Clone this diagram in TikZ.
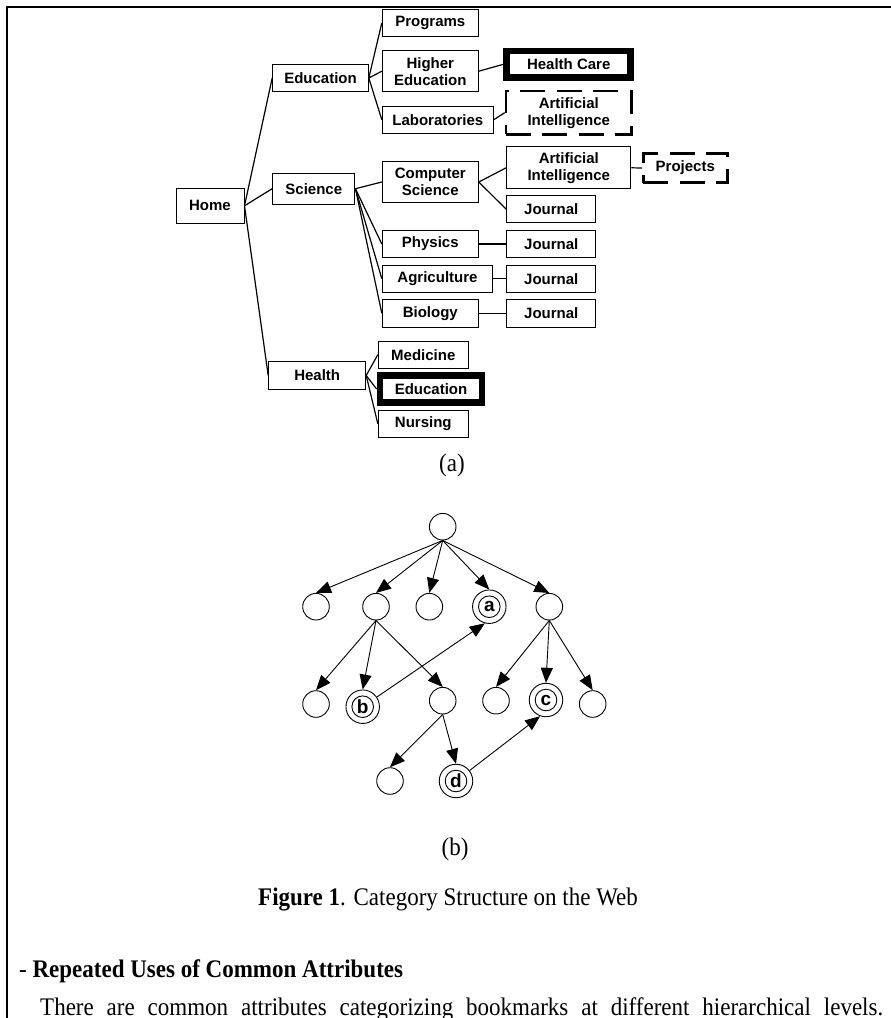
\documentclass[tikz,border=0pt]{standalone}
\usepackage{fontspec}
\setmainfont{Liberation Serif}
\setsansfont{Liberation Sans}
\usetikzlibrary{arrows.meta}
\tikzset{
  box/.style 2 args={draw, line width=1pt, inner sep=0pt, fill=white,
    minimum width=#1, minimum height=#2, align=center,
    font=\sffamily\bfseries\fontsize{15}{17}\selectfont},
  thickbox/.style={line width=6.8pt},
  dashbox/.style={line width=2.6pt, dash pattern=on 25pt off 11.5pt},
  conn/.style={line width=1.2pt},
  cir/.style={draw, circle, line width=0.9pt, minimum size=26.6pt, inner sep=0pt, fill=white},
  dcir/.style={draw, circle, line width=0.9pt, minimum size=33.5pt, inner sep=0pt, fill=white,
    font=\sffamily\bfseries\fontsize{19}{19}\selectfont},
  arr/.style={line width=0.9pt, -{Triangle[length=15pt,width=12pt]}},
  serif/.style={font=\fontsize{23}{26}\selectfont, inner sep=0pt},
}
\newcommand{\tallr}[1]{\scalebox{1}[1.1]{#1}}
\begin{document}
\begin{tikzpicture}[x=1pt,y=-1pt]
\useasboundingbox (0,0) rectangle (891,1018);
\draw[line width=2.3pt] (7,1018) -- (7,7) -- (891,7);

% tree (a)
\node[box={68pt}{35pt}] (home) at (210,205.8) {Home};
\node[box={95.6pt}{27.4pt}] (edu) at (320.5,78) {Education};
\node[box={82.3pt}{30.7pt}] (sci) at (313.8,188.7) {Science};
\node[box={97pt}{27.6pt}] (hea) at (317.2,375.5) {Health};
\node[box={96pt}{27.4pt}] (prog) at (430.3,23) {Programs};
\node[box={96pt}{41pt}] (hied) at (430.3,71.2) {Higher\\Education};
\node[box={111pt}{27.3pt}] (labs) at (437.8,119.7) {Laboratories};
\node[box={124pt}{26.7pt}, thickbox] (hc) at (568.7,64.3) {Health Care};
\node[box={125.7pt}{43.3pt}, dashbox] (ai1) at (568.8,112.7) {Artificial\\Intelligence};
\node[box={96pt}{40.6pt}] (cs) at (430.3,182) {Computer\\Science};
\node[box={124.3pt}{42.3pt}] (ai2) at (568.8,167.8) {Artificial\\Intelligence};
\node[box={84pt}{29.4pt}, dashbox] (proj) at (685.3,168) {Projects};
\node[box={89.3pt}{27pt}] (j1) at (551.3,209.2) {Journal};
\node[box={96pt}{26.6pt}] (phy) at (430.3,244) {Physics};
\node[box={89.3pt}{26.6pt}] (j2) at (551.3,244) {Journal};
\node[box={110.4pt}{27.3pt}] (agr) at (437.5,278.7) {Agriculture};
\node[box={89.3pt}{27.3pt}] (j3) at (551.3,278.7) {Journal};
\node[box={96pt}{28pt}] (bio) at (430.3,313.3) {Biology};
\node[box={89.3pt}{28pt}] (j4) at (551.3,313.3) {Journal};
\node[box={90pt}{27.3pt}] (med) at (423.3,354.7) {Medicine};
\node[box={102pt}{27pt}, thickbox] (hedu) at (431,389) {Education};
\node[box={90pt}{27.3pt}] (nur) at (423.3,423.7) {Nursing};

\foreach \a/\b in {home/edu, home/sci, home/hea, edu/prog, edu/hied, edu/labs,
  hied/hc, labs/ai1, sci/cs, sci/phy, sci/agr, sci/bio, cs/ai2, cs/j1, ai2/proj,
  phy/j2, agr/j3, bio/j4, hea/med, hea/hedu, hea/nur}
  \draw[conn] (\a.east) -- (\b.west);

\node[serif] (la) at (452,465) {\tallr{(a)}};

% graph (b)
\node[cir] (r) at (442.7,526.7) {};
\node[cir] (l1) at (316,606.7) {};
\node[cir] (l2) at (376,606.7) {};
\node[cir] (l3) at (429.3,606.7) {};
\node[dcir] (a) at (489.3,606.7) {a};
\node[cir] (l5) at (549.3,606.7) {};
\node[cir] (m1) at (316,704) {};
\node[dcir] (b) at (362.7,706.7) {b};
\node[cir] (m3) at (442.7,700.7) {};
\node[cir] (m4) at (496,700.7) {};
\node[dcir] (c) at (546,700) {c};
\node[cir] (m6) at (592.7,704) {};
\node[cir] (n1) at (390,781) {};
\node[dcir] (d) at (456,781) {d};
\foreach \n in {a,b,c,d}
  \draw[line width=0.9pt] (\n.center) circle[radius=10.8];

\foreach \p/\q in {r/l1, r/l2, r/l3, r/a, r/l5, l2/m1, l2/b, l2/m3,
  l5/m4, l5/c, l5/m6, m3/n1, m3/d}
  \draw[arr] (\p.south) -- (\q.north);
\draw[arr] (b) -- (a.255);
\draw[arr] (d) -- (c.250);

\node[serif, anchor=base] (lb) at (455,855) {\tallr{(b)}};
\node[serif, anchor=base west] (cap) at (258,905) {\tallr{\textbf{Figure 1}. Category Structure on the Web}};
\node[serif, anchor=base west] (hd) at (19,977) {\tallr{- \textbf{Repeated Uses of Common Attributes}}};
\node[serif, anchor=base west] (par) at (40,1015) {\tallr{\makebox[843pt][s]{There are common attributes categorizing bookmarks at different hierarchical levels.}}};
\end{tikzpicture}
\end{document}
